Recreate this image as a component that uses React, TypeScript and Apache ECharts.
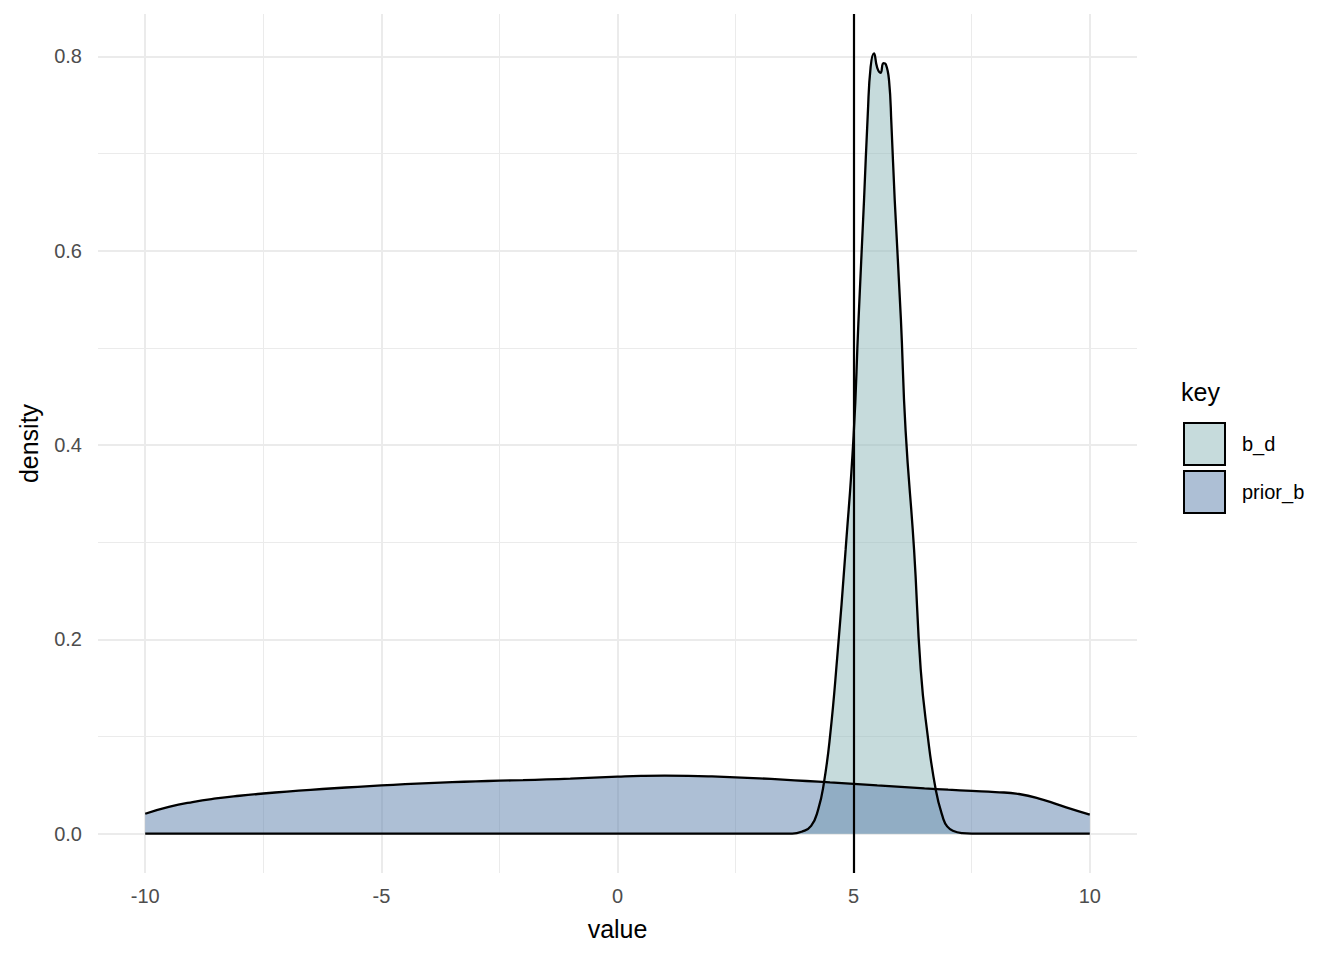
import React, { useEffect, useRef } from "react";
import * as echarts from "echarts";

const seriesNames = ["b_d", "prior_b"];
const fillColors = ["#8DB7B9", "#5B7FAB"];
const legendColors = ["#C6DBDC", "#ADBFD5"];

const bdValues: [number, number][] = [
  [-10, 0], [3.7, 0], [3.9, 0.002], [4.1, 0.008], [4.25, 0.025], [4.37, 0.052],
  [4.5, 0.1], [4.65, 0.18], [4.83, 0.292], [5.0, 0.41], [5.1, 0.525], [5.22, 0.652],
  [5.3, 0.741], [5.36, 0.789], [5.43, 0.803], [5.5, 0.788], [5.57, 0.783], [5.63, 0.793],
  [5.68, 0.792], [5.75, 0.775], [5.8, 0.73], [5.87, 0.652], [6.0, 0.53], [6.1, 0.415],
  [6.28, 0.292], [6.42, 0.169], [6.56, 0.104], [6.74, 0.045], [6.9, 0.015], [6.98, 0.0075],
  [7.1, 0.003], [7.3, 0.0005], [7.5, 0], [10, 0],
];

const priorValues: [number, number][] = [
  [-10, 0.0205], [-9.5, 0.0275], [-9, 0.0325], [-8.5, 0.0362], [-8, 0.039], [-7.5, 0.0413],
  [-7, 0.0433], [-6.5, 0.0451], [-6, 0.0467], [-5.5, 0.0482], [-5, 0.0496], [-4.5, 0.0509],
  [-4, 0.052], [-3.5, 0.053], [-3, 0.0538], [-2.5, 0.0545], [-2, 0.0551], [-1.5, 0.0558],
  [-1, 0.0566], [-0.5, 0.0576], [0, 0.0586], [0.5, 0.0594], [1, 0.0597], [1.5, 0.0595],
  [2, 0.0589], [2.5, 0.058], [3, 0.0569], [3.5, 0.0556], [4, 0.0542], [4.5, 0.0527],
  [5, 0.0512], [5.5, 0.0496], [6, 0.0481], [6.5, 0.0466], [7, 0.0452], [7.5, 0.044],
  [8, 0.0428], [8.5, 0.0408], [9, 0.035], [9.5, 0.027], [10, 0.0195],
];

const xMajor = [-10, -5, 0, 5, 10];
const xMinor = [-7.5, -2.5, 2.5, 7.5];
const yMajor = [0, 0.2, 0.4, 0.6, 0.8];
const yMinor = [0.1, 0.3, 0.5, 0.7];
const refLineX = 5;

const FONT = "'Liberation Sans', Arial, Helvetica, sans-serif";

export default function App() {
  const ref = useRef<HTMLDivElement>(null);
  useEffect(() => {
    document.body.style.margin = "0";
    if (!ref.current) return;
    const chart = echarts.init(ref.current, undefined, { renderer: "svg" });
    const gridLines: any[] = [
      ...xMajor.map((v) => ({ xAxis: v, lineStyle: { color: "#EBEBEB", width: 2, type: "solid" } })),
      ...xMinor.map((v) => ({ xAxis: v, lineStyle: { color: "#EBEBEB", width: 1, type: "solid" } })),
      ...yMajor.map((v) => ({ yAxis: v, lineStyle: { color: "#EBEBEB", width: 2, type: "solid" } })),
      ...yMinor.map((v) => ({ yAxis: v, lineStyle: { color: "#EBEBEB", width: 1, type: "solid" } })),
    ];
    const dataSeries = [bdValues, priorValues].map((d, i) => ({
      name: seriesNames[i],
      type: "line",
      data: d,
      showSymbol: false,
      smooth: 0.5,
      silent: true,
      z: 2,
      itemStyle: { color: legendColors[i] },
      lineStyle: { color: "#000", width: 2.3 },
      areaStyle: { color: fillColors[i], opacity: 0.5 },
      markLine:
        i === 1
          ? {
              silent: true,
              symbol: ["none", "none"],
              label: { show: false },
              z: 5,
              lineStyle: { color: "#000", width: 2.2, type: "solid" },
              data: [{ xAxis: refLineX }],
            }
          : undefined,
    }));
    chart.setOption({
      animation: false,
      textStyle: { fontFamily: FONT },
      title: {
        text: "key",
        left: 1181,
        top: 379,
        padding: 0,
        textStyle: { fontSize: 25, fontWeight: "normal", color: "#000", fontFamily: FONT },
      },
      legend: {
        orient: "vertical",
        left: 1183,
        top: 422,
        padding: 0,
        itemWidth: 41,
        itemHeight: 42,
        itemGap: 4,
        icon: "rect",
        selectedMode: false,
        textStyle: { fontSize: 20, color: "#000", fontFamily: FONT, padding: [0, 0, 0, 12] },
        data: seriesNames.map((n, i) => ({
          name: n,
          icon: "rect",
          itemStyle: { color: legendColors[i], borderColor: "#000", borderWidth: 2 },
        })),
      },
      grid: {
        left: 98,
        right: 207,
        top: 14,
        bottom: 87,
        containLabel: false,
        outerBoundsMode: "none",
      },
      xAxis: {
        type: "value",
        min: -11,
        max: 11,
        name: "value",
        nameLocation: "middle",
        nameGap: 43,
        nameTextStyle: { fontSize: 25, color: "#000", fontFamily: FONT },
        axisLine: { show: false },
        axisTick: { show: false },
        splitLine: { show: false },
        axisLabel: {
          customValues: xMajor,
          color: "#4D4D4D",
          fontSize: 20,
          margin: 13,
          fontFamily: FONT,
        },
      },
      yAxis: {
        type: "value",
        min: -0.0405,
        max: 0.8435,
        name: "density",
        nameLocation: "middle",
        nameGap: 57,
        nameTextStyle: { fontSize: 25, color: "#000", fontFamily: FONT },
        axisLine: { show: false },
        axisTick: { show: false },
        splitLine: { show: false },
        axisLabel: {
          customValues: yMajor,
          color: "#4D4D4D",
          fontSize: 20,
          margin: 16,
          fontFamily: FONT,
          formatter: (v: number) => v.toFixed(1),
        },
      },
      series: [
        {
          name: "grid",
          type: "line",
          data: [],
          silent: true,
          z: 1,
          markLine: {
            silent: true,
            symbol: ["none", "none"],
            label: { show: false },
            z: 1,
            data: gridLines,
          },
        },
        ...dataSeries,
      ],
    });
    return () => chart.dispose();
  }, []);
  return <div ref={ref} style={{ width: 1344, height: 960 }} />;
}
